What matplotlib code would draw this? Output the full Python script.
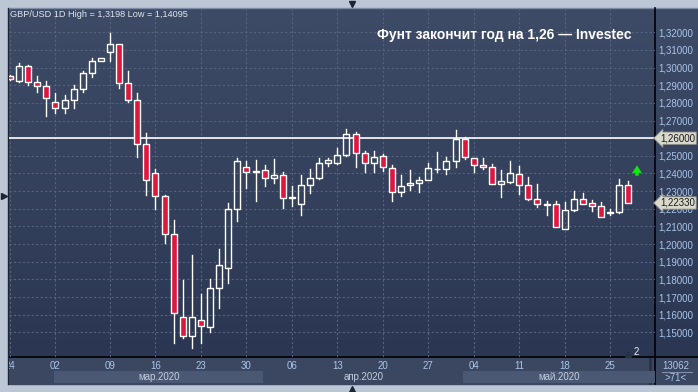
import numpy as np
import matplotlib
matplotlib.use("Agg")
import matplotlib.pyplot as plt
from matplotlib.patches import Rectangle
from matplotlib.colors import LinearSegmentedColormap
from matplotlib.transforms import blended_transform_factory

# daily GBP/USD candles, 24 Feb 2020 .. 28 May 2020
opens = [1.2952, 1.2924, 1.3007, 1.2918, 1.2894, 1.2803, 1.2769, 1.2814, 1.2877, 1.2968,
         1.3037, 1.3090, 1.3134, 1.2911, 1.2816, 1.2565, 1.2401, 1.2271, 1.2056, 1.1589,
         1.1481, 1.1568, 1.1529, 1.1750, 1.1867, 1.2200, 1.2437, 1.2412, 1.2417, 1.2372,
         1.2394, 1.2267, 1.2230, 1.2333, 1.2377, 1.2457, 1.2457, 1.2502, 1.2621, 1.2514,
         1.2457, 1.2497, 1.2429, 1.2293, 1.2333, 1.2344, 1.2364, 1.2426, 1.2423, 1.2468,
         1.2593, 1.2486, 1.2446, 1.2435, 1.2339, 1.2351, 1.2397, 1.2333, 1.2257, 1.2227,
         1.2225, 1.2084, 1.2191, 1.2253, 1.2232, 1.2218, 1.2178, 1.2180, 1.2333]
highs = [1.2958, 1.3028, 1.3016, 1.2952, 1.2924, 1.2856, 1.2846, 1.2903, 1.2979, 1.3054,
         1.3056, 1.3198, 1.3134, 1.2980, 1.2854, 1.2627, 1.2424, 1.2276, 1.2136, 1.1797,
         1.1938, 1.1718, 1.1800, 1.1974, 1.2231, 1.2489, 1.2471, 1.2475, 1.2448, 1.2481,
         1.2406, 1.2330, 1.2390, 1.2423, 1.2489, 1.2489, 1.2543, 1.2651, 1.2633, 1.2525,
         1.2527, 1.2508, 1.2448, 1.2390, 1.2419, 1.2379, 1.2458, 1.2521, 1.2493, 1.2644,
         1.2608, 1.2486, 1.2486, 1.2453, 1.2419, 1.2470, 1.2442, 1.2379, 1.2338, 1.2244,
         1.2244, 1.2240, 1.2300, 1.2289, 1.2248, 1.2236, 1.2200, 1.2369, 1.2358]
lows = [1.2930, 1.2920, 1.2903, 1.2863, 1.2727, 1.2744, 1.2744, 1.2773, 1.2860, 1.2948,
        1.3036, 1.3037, 1.2886, 1.2806, 1.2495, 1.2278, 1.2201, 1.2004, 1.1441, 1.1470,
        1.14095, 1.1441, 1.1500, 1.1638, 1.1778, 1.2133, 1.2319, 1.2246, 1.2330, 1.2349,
        1.2205, 1.2215, 1.2165, 1.2290, 1.2366, 1.2445, 1.2455, 1.2500, 1.2438, 1.2411,
        1.2411, 1.2415, 1.2245, 1.2274, 1.2305, 1.2296, 1.2361, 1.2406, 1.2395, 1.2434,
        1.2481, 1.2411, 1.2423, 1.2339, 1.2268, 1.2347, 1.2283, 1.2248, 1.2212, 1.2164,
        1.2098, 1.2084, 1.2186, 1.2225, 1.2188, 1.2155, 1.2165, 1.2178, 1.2233]
closes = [1.2935, 1.3007, 1.2918, 1.2894, 1.2826, 1.2769, 1.2816, 1.2877, 1.2969, 1.3036,
          1.3053, 1.3134, 1.2911, 1.2816, 1.2565, 1.2361, 1.2271, 1.2056, 1.1607, 1.1481,
          1.1585, 1.1534, 1.1750, 1.1880, 1.2200, 1.2471, 1.2411, 1.2410, 1.2372, 1.2394,
          1.2264, 1.2263, 1.2333, 1.2377, 1.2457, 1.2474, 1.2502, 1.2621, 1.2514, 1.2457,
          1.2491, 1.2435, 1.2293, 1.2332, 1.2346, 1.2361, 1.2429, 1.2424, 1.2468, 1.2593,
          1.2491, 1.2446, 1.2435, 1.2339, 1.2355, 1.2402, 1.2333, 1.2257, 1.2225, 1.2224,
          1.2098, 1.2191, 1.2253, 1.2230, 1.2218, 1.2155, 1.2180, 1.2333, 1.2233]

# candle index of each Monday and its label
tick_idx = [0, 5, 11, 16, 21, 26, 31, 36, 41, 46, 51, 56, 61, 66]
tick_labels = ["24", "02", "09", "16", "23", "30", "06", "13", "20", "27", "04", "11", "18", "25"]
# month bands: label, first and last candle position
months = [("мар.2020", 4.85, 27.85), ("апр.2020", 27.85, 49.85), ("май.2020", 49.85, 70.93)]
price_levels = [1.15 + 0.01 * i for i in range(18)]
target = 1.26
last_price = 1.2233

RED = "#e0163c"
TXT = "#a9c4ea"
FRAME = "#bcc6d4"
plt.rcParams["font.family"] = ["Liberation Sans", "DejaVu Sans"]

fig = plt.figure(figsize=(6.98, 3.92), dpi=100)
fig.patch.set_facecolor(FRAME)

# background / frame in pixel coordinates
bg = fig.add_axes([0, 0, 1, 1])
bg.axis("off")
cmap = LinearSegmentedColormap.from_list("bgc", ["#3e4b67", "#2b3752"])
bg.imshow(np.linspace(0, 1, 256).reshape(-1, 1), extent=[8, 698, 357, 8], cmap=cmap, aspect="auto")
bg.add_patch(Rectangle((8, 357), 690, 27, color="#3b4761"))
bg.plot([8, 698], [7.5, 7.5], color="#7d8ca4", lw=1)
bg.plot([655, 655], [8, 384], color="black", lw=1.2)
bg.plot([8, 698], [357, 357], color="black", lw=1.2)
bg.plot([650, 650], [359, 383], color="#27324a", lw=2)
bg.plot(352, 3.5, marker="v", color="#1b2536", ms=5)
bg.plot(352, 389, marker="^", color="#1b2536", ms=5)
bg.text(676, 366, "13062", color=TXT, fontsize=7, ha="center", va="center")
bg.plot([662, 692], [371.5, 371.5], color="#8090a8", lw=0.8)
bg.text(676, 378, ">71<", color=TXT, fontsize=7, ha="center", va="center")
bg.plot(628, 354, marker="^", color="#27324a", ms=5)
bg.text(636, 352, "2", color="#e8ecf4", fontsize=7, ha="center", va="center")
bg.set_xlim(0, 698)
bg.set_ylim(392, 0)

# main chart
ax = fig.add_axes([9 / 698, 35 / 392, 646 / 698, 349 / 392])
ax.set_facecolor("none")
for s in ax.spines.values():
    s.set_visible(False)

for y in price_levels:
    ax.axhline(y, color="#56637f", lw=0.8, ls=(0, (2, 2)), zorder=1)
for x in tick_idx:
    ax.axvline(x, color="#56637f", lw=0.8, ls=(0, (2, 2)), zorder=1)

w = 0.66
for i, (o, h, l, c) in enumerate(zip(opens, highs, lows, closes)):
    top, bot = max(o, c), min(o, c)
    ax.plot([i, i], [top, h], color="white", lw=1, zorder=2)
    ax.plot([i, i], [l, bot], color="white", lw=1, zorder=2)
    fc = RED if c < o else "none"
    ax.add_patch(Rectangle((i - w / 2, bot), w, max(top - bot, 1e-6), facecolor=fc,
                           edgecolor="white", lw=1, zorder=3))

ax.axhline(target, color="white", lw=1.2, zorder=2)

ax.annotate("", xy=(68.95, 1.2462), xytext=(68.95, 1.2372),
            arrowprops=dict(arrowstyle="simple,head_width=0.7,head_length=0.55,tail_width=0.25",
                            color="#14e614", lw=0))

ax.text(0.0015, 0.98, "GBP/USD 1D High = 1,3198 Low = 1,14095", transform=ax.transAxes,
        color="#e0e6f0", fontsize=6.6, ha="left", va="center")
ax.text(0.964, 0.9226, "Фунт закончит год на 1,26 — Investec", transform=ax.transAxes,
        color="white", fontsize=10, fontweight="bold", ha="right", va="center")

ax.yaxis.tick_right()
ax.set_yticks(price_levels)
# the 1,26000 level is shown by its marker box instead of a plain tick label
ax.set_yticklabels(["" if abs(v - target) < 1e-9 else f"{v:.5f}".replace(".", ",")
                    for v in price_levels])
ax.set_xticks(tick_idx)
ax.set_xticklabels(tick_labels)
ax.tick_params(axis="both", length=0, colors=TXT, labelsize=7)
ax.tick_params(axis="y", pad=2.2)
ax.tick_params(axis="x", pad=3)

tr = blended_transform_factory(ax.transAxes, ax.transData)
box = dict(boxstyle="larrow,pad=0.12", fc="#d9d9cc", ec="#8f8f88", lw=0.6)
ax.text(1.008, target, f"{target:.5f}".replace(".", ","), transform=tr, fontsize=7,
        color="#1a1a1a", ha="left", va="center", bbox=box, zorder=5)
ax.text(1.008, last_price, f"{last_price:.5f}".replace(".", ","), transform=tr, fontsize=7,
        color="#1a1a1a", ha="left", va="center", bbox=box, zorder=5)

# month strip
axm = fig.add_axes([9 / 698, 9 / 392, 646 / 698, 12 / 392], sharex=ax)
axm.axis("off")
for name, a, b in months:
    if name != "апр.2020":
        axm.axvspan(a, b, color="#4b5873", lw=0)
    axm.text((a + b) / 2, 0.5, name, color="#c4cde0", fontsize=7, ha="center", va="center",
             transform=blended_transform_factory(axm.transData, axm.transAxes))

ax.set_xlim(-0.11, 70.93)
ax.set_ylim(1.13603, 1.33377)

# left frame strip drawn on top so the first date label is cut like in the terminal
left = fig.add_axes([0, 0, 9 / 698, 1], zorder=10)
left.set_facecolor(FRAME)
left.set_xlim(0, 9)
left.set_ylim(392, 0)
for s in left.spines.values():
    s.set_visible(False)
left.set_xticks([])
left.set_yticks([])
left.add_patch(Rectangle((8, 8), 1, 376, color="#3b4761", lw=0))
left.plot([8.2, 8.2], [8, 384], color="#1c2436", lw=1)
left.plot(3.5, 196, marker=">", color="#1b2536", ms=5)

fig.savefig("out.png", dpi=100, facecolor=fig.get_facecolor())
